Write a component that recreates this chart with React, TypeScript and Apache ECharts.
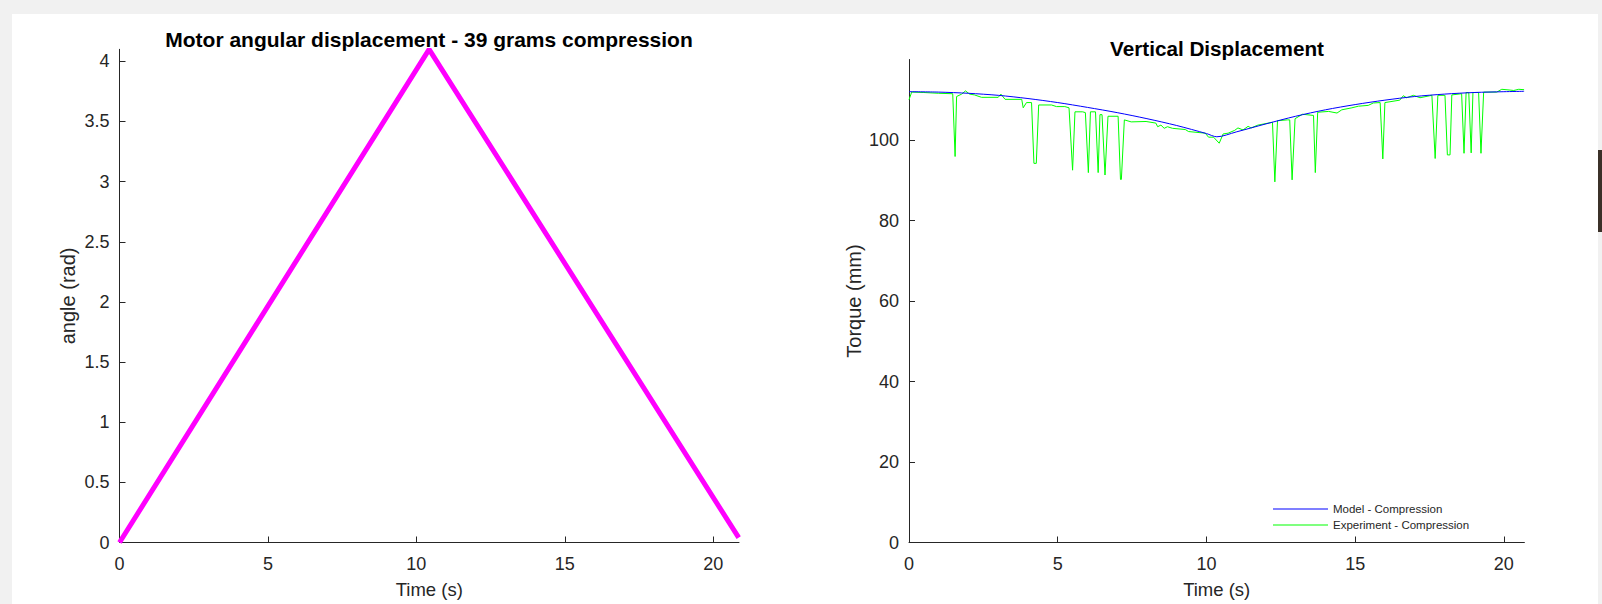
import React, { useEffect, useRef } from "react";
import * as echarts from "echarts";

// ---- Left chart: motor angular displacement ----
const leftTime = [0, 10.43, 20.86];
const leftAngle = [0, 4.1, 0.04];

// ---- Right chart: vertical displacement ----
const modelTime = [0, 1, 2, 3, 4, 5, 6, 7, 8, 9, 10, 10.35, 11, 12, 13, 14, 15, 16, 17, 18, 19, 20, 20.68];
const modelValue = [112.0, 111.9, 111.6, 111.1, 110.3, 109.3, 108.1, 106.8, 105.3, 103.6, 101.6, 100.8, 102.0, 104.0, 105.9, 107.5, 108.8, 109.9, 110.8, 111.4, 111.8, 112.0, 112.1];

const expTime = [
  0.0, 0.09, 0.5, 1.0, 1.47, 1.55, 1.6, 1.77, 1.9, 2.04, 2.2, 2.44, 3.0, 3.09, 3.23, 3.79, 3.84, 3.95, 4.12, 4.2, 4.28, 4.36,
  4.79, 4.96, 5.24, 5.38, 5.5, 5.58, 5.84, 5.93, 6.03, 6.1, 6.27, 6.36, 6.42, 6.49, 6.59, 6.69, 7.03, 7.11, 7.14, 7.24, 7.47,
  7.97, 8.3, 8.36, 8.47, 8.58, 8.69, 8.86, 9.29, 9.4, 9.96, 10.07, 10.24, 10.43, 10.56, 10.73, 10.95, 11.06, 11.23, 11.4,
  11.5, 11.73, 12.22, 12.3, 12.39, 12.72, 12.8, 12.88, 12.98, 13.23, 13.6, 13.66, 13.74, 14.11, 14.39, 14.55, 14.89, 15.11,
  15.44, 15.61, 15.84, 15.93, 16.0, 16.5, 16.62, 16.73, 16.96, 17.18, 17.58, 17.69, 17.78, 18.02, 18.1, 18.19, 18.25, 18.58,
  18.66, 18.73, 18.82, 18.9, 18.96, 19.15, 19.23, 19.32, 19.76, 19.93, 20.21, 20.33, 20.5, 20.68
];
const expValue = [
  110.0, 111.9, 111.8, 111.6, 111.5, 95.9, 110.8, 111.4, 112.2, 111.4, 111.2, 110.6, 110.6, 111.4, 110.1, 110.1, 108.0, 109.3, 109.3, 94.2, 94.2, 108.7,
  108.7, 108.3, 108.3, 108.0, 92.5, 107.0, 107.0, 106.8, 91.9, 107.0, 107.0, 91.9, 106.3, 106.3, 91.3, 105.9, 105.9, 90.2, 90.2, 105.0, 104.5,
  104.6, 104.2, 103.3, 103.7, 102.9, 103.3, 102.9, 102.6, 102.1, 101.7, 100.7, 100.7, 99.2, 101.5, 101.7, 102.4, 103.0, 102.5, 103.4,
  103.0, 103.7, 104.4, 89.6, 104.8, 105.0, 105.0, 90.1, 105.3, 106.4, 106.1, 91.9, 106.9, 107.1, 106.7, 107.5, 108.0, 108.4,
  108.6, 109.2, 109.3, 95.3, 109.3, 109.9, 111.0, 110.5, 111.1, 110.5, 111.1, 95.4, 111.1, 111.1, 96.3, 96.3, 111.2, 111.5,
  96.7, 111.8, 111.8, 96.8, 111.8, 111.8, 96.7, 111.9, 111.9, 112.6, 112.4, 112.3, 112.6, 112.5
];

const xTicks = [0, 5, 10, 15, 20];
const leftYTicks = [0, 0.5, 1, 1.5, 2, 2.5, 3, 3.5, 4];
const rightYTicks = [0, 20, 40, 60, 80, 100];

const FONT = "Liberation Sans, Arial, Helvetica, sans-serif";
const AXIS_COLOR = "#262626";

function axisCommon(ticks: number[], nameSize: number) {
  return {
    axisLine: { show: true, lineStyle: { color: AXIS_COLOR, width: 1 } },
    axisTick: { show: true, inside: true, length: 6, customValues: ticks, lineStyle: { color: AXIS_COLOR } },
    splitLine: { show: false },
    nameTextStyle: { color: AXIS_COLOR, fontSize: nameSize, fontFamily: FONT },
  };
}

export default function App() {
  const ref = useRef<HTMLDivElement>(null);
  useEffect(() => {
    if (!ref.current) return;
    const chart = echarts.init(ref.current, null, { renderer: "svg" });
    const option = {
      animation: false,
      backgroundColor: "#f1f1f1",
      graphic: [
        { type: "rect", z: -100, shape: { x: 12, y: 14, width: 803, height: 590 }, style: { fill: "#ffffff" } },
        { type: "rect", z: -100, shape: { x: 815, y: 14, width: 783, height: 590 }, style: { fill: "#ffffff" } },
        { type: "rect", z: -100, shape: { x: 1598, y: 150, width: 4, height: 82 }, style: { fill: "#3b3129" } },
      ],
      title: [
        {
          text: "Motor angular displacement - 39 grams compression",
          left: 424,
          top: 24,
          textAlign: "center",
          textStyle: { fontSize: 21, fontWeight: "bold", color: "#000", fontFamily: FONT },
        },
        {
          text: "Vertical Displacement",
          left: 1212,
          top: 33,
          textAlign: "center",
          textStyle: { fontSize: 20.7, fontWeight: "bold", color: "#000", fontFamily: FONT },
        },
      ],
      legend: {
        left: 1268,
        top: 497,
        orient: "vertical",
        icon: "rect",
        itemWidth: 55,
        itemHeight: 1.2,
        itemGap: 2,
        data: ["Model - Compression", "Experiment - Compression"],
        textStyle: { fontSize: 11.5, fontFamily: FONT, color: AXIS_COLOR, lineHeight: 14 },
      },
      grid: [
        { left: 119.5, top: 49.3, width: 619.5, height: 493.2, outerBoundsMode: "none", containLabel: false },
        { left: 909, top: 59.5, width: 615.4, height: 483, outerBoundsMode: "none", containLabel: false },
      ],
      xAxis: [
        {
          type: "value", gridIndex: 0, min: 0, max: 20.87,
          name: "Time (s)", nameLocation: "middle", nameGap: 37,
          ...axisCommon(xTicks, 18.5),
          axisLabel: { color: AXIS_COLOR, fontSize: 18, fontFamily: FONT, customValues: xTicks, margin: 12 },
        },
        {
          type: "value", gridIndex: 1, min: 0, max: 20.69,
          name: "Time (s)", nameLocation: "middle", nameGap: 37,
          ...axisCommon(xTicks, 18.5),
          axisLabel: { color: AXIS_COLOR, fontSize: 18, fontFamily: FONT, customValues: xTicks, margin: 12 },
        },
      ],
      yAxis: [
        {
          type: "value", gridIndex: 0, min: 0, max: 4.1,
          name: "angle (rad)", nameLocation: "middle", nameGap: 42,
          ...axisCommon(leftYTicks, 20),
          axisLabel: { color: AXIS_COLOR, fontSize: 18, fontFamily: FONT, customValues: leftYTicks, margin: 10 },
        },
        {
          type: "value", gridIndex: 1, min: 0, max: 120,
          name: "Torque (mm)", nameLocation: "middle", nameGap: 45,
          ...axisCommon(rightYTicks, 20),
          axisLabel: { color: AXIS_COLOR, fontSize: 18, fontFamily: FONT, customValues: rightYTicks, margin: 10 },
        },
      ],
      series: [
        {
          type: "line", xAxisIndex: 0, yAxisIndex: 0, showSymbol: false, symbol: "none",
          data: leftTime.map((t, i) => [t, leftAngle[i]]),
          lineStyle: { color: "#ff00ff", width: 5 },
          itemStyle: { color: "#ff00ff" },
        },
        {
          name: "Experiment - Compression",
          type: "line", xAxisIndex: 1, yAxisIndex: 1, showSymbol: false, symbol: "none",
          data: expTime.map((t, i) => [t, expValue[i]]),
          lineStyle: { color: "#00ff00", width: 1 },
          itemStyle: { color: "#00ff00" },
        },
        {
          name: "Model - Compression",
          type: "line", xAxisIndex: 1, yAxisIndex: 1, showSymbol: false, symbol: "none", smooth: 0.3,
          data: modelTime.map((t, i) => [t, modelValue[i]]),
          lineStyle: { color: "#0000ff", width: 1 },
          itemStyle: { color: "#0000ff" },
        },
      ],
    };
    chart.setOption(option as any);
    return () => chart.dispose();
  }, []);
  return (
    <div
      ref={ref}
      style={{ position: "absolute", left: 0, top: 0, width: 1602, height: 604 }}
    />
  );
}
